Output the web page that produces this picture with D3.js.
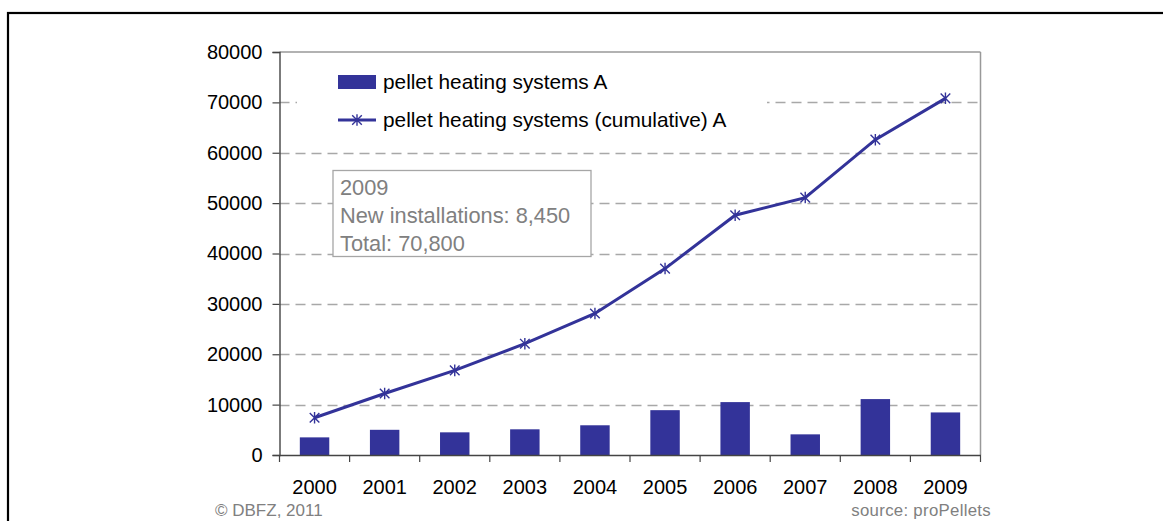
<!DOCTYPE html>
<html>
<head>
<meta charset="utf-8">
<script src="https://cdn.jsdelivr.net/npm/d3@7"></script>
<style>
  html, body { margin: 0; padding: 0; background: #fff; }
  svg { display: block; font-family: "Liberation Sans", Arial, sans-serif; }
</style>
</head>
<body>
<svg id="chart" width="1163" height="521"></svg>
<script>
// ---- data ----
const years = ["2000","2001","2002","2003","2004","2005","2006","2007","2008","2009"];
const newInstallations = [3500, 5000, 4500, 5100, 5900, 8900, 10500, 4100, 11100, 8450];
const cumulative = [7400, 12200, 16800, 22100, 28100, 37000, 47600, 51100, 62600, 70800];
const yTicks = [0, 10000, 20000, 30000, 40000, 50000, 60000, 70000, 80000];
const seriesNames = ["pellet heating systems A", "pellet heating systems (cumulative) A"];
const annotationLines = ["2009", "New installations: 8,450", "Total: 70,800"];
const creditLeft = "© DBFZ, 2011";
const creditRight = "source: proPellets";

(function () {
// ---- layout ----
const svg = d3.select("#chart");
const pL = 279.5, pR = 980.5, pT = 52, pB = 455;
const blue = "#333399";

const x = d3.scaleBand().domain(years).range([pL, pR]);
const y = d3.scaleLinear().domain([0, 80000]).range([pB, pT]);

// outer frame (clipped at right/bottom)
svg.append("rect").attr("x", 8).attr("y", 13).attr("width", 1200).attr("height", 600)
  .attr("fill", "none").attr("stroke", "#000").attr("stroke-width", 2.2);

// gridlines
svg.append("g").selectAll("line").data(yTicks.filter(t => t > 0 && t < 80000)).join("line")
  .attr("x1", pL).attr("x2", pR)
  .attr("y1", d => Math.round(y(d)) + 0.5).attr("y2", d => Math.round(y(d)) + 0.5)
  .attr("stroke", "#a8a8a8").attr("stroke-width", 1.5).attr("stroke-dasharray", "10,6");

// top and right border of plot
svg.append("line").attr("x1", pL).attr("x2", pR).attr("y1", y(80000)).attr("y2", y(80000))
  .attr("stroke", "#999").attr("stroke-width", 1.5);
svg.append("line").attr("x1", pR).attr("x2", pR).attr("y1", y(80000)).attr("y2", y(0))
  .attr("stroke", "#999").attr("stroke-width", 1.5);

// bars
const bw = x.bandwidth() * 0.42;
svg.append("g").selectAll("rect").data(years).join("rect")
  .attr("x", (d) => x(d) + (x.bandwidth() - bw) / 2)
  .attr("width", bw)
  .attr("y", (d, i) => y(newInstallations[i]))
  .attr("height", (d, i) => y(0) - y(newInstallations[i]))
  .attr("fill", blue);

// y axis
const yAxis = svg.append("g").attr("transform", `translate(${pL},0)`)
  .call(d3.axisLeft(y).tickValues(yTicks).tickFormat(d3.format("d")).tickSize(7).tickPadding(10));
yAxis.select(".domain").attr("stroke", "#444").attr("stroke-width", 1.4);
yAxis.selectAll(".tick line").attr("stroke", "#444").attr("stroke-width", 1.2);
yAxis.selectAll("text").attr("font-size", 20).attr("fill", "#000")
  .attr("font-family", "Liberation Sans, Arial, sans-serif");

// x axis
const xAxis = svg.append("g").attr("transform", `translate(0,${pB})`)
  .call(d3.axisBottom(x).tickSize(0).tickPadding(0));
xAxis.select(".domain").attr("stroke", "#444").attr("stroke-width", 1.6);
xAxis.selectAll("text").attr("font-size", 20).attr("fill", "#000").attr("dy", 0)
  .attr("y", 39).attr("font-family", "Liberation Sans, Arial, sans-serif");
// tick marks at category boundaries
const boundaries = years.map(d => x(d)).concat([x(years[years.length - 1]) + x.bandwidth()]);
svg.append("g").selectAll("line").data(boundaries).join("line")
  .attr("x1", d => d).attr("x2", d => d).attr("y1", pB).attr("y2", pB + 7)
  .attr("stroke", "#444").attr("stroke-width", 1.2);

// cumulative line
const cx = (d) => x(d) + x.bandwidth() / 2;
const line = d3.line().x((d, i) => cx(years[i])).y(d => y(d));
svg.append("path").datum(cumulative).attr("d", line)
  .attr("fill", "none").attr("stroke", blue).attr("stroke-width", 3);

function star(g, px, py, s) {
  g.append("path")
    .attr("d", `M${px - s},${py - s}L${px + s},${py + s}M${px - s},${py + s}L${px + s},${py - s}M${px},${py - s * 1.2}L${px},${py + s * 1.2}`)
    .attr("stroke", blue).attr("stroke-width", 1.4).attr("fill", "none");
}
const mk = svg.append("g");
cumulative.forEach((v, i) => star(mk, cx(years[i]), y(v), 4.8));

// legend (white background hides gridline)
const lg = svg.append("g");
lg.append("rect").attr("x", 297).attr("y", 62).attr("width", 470).attr("height", 78).attr("fill", "#fff");
lg.append("rect").attr("x", 338).attr("y", 75).attr("width", 38).attr("height", 14).attr("fill", blue);
lg.append("text").attr("x", 383).attr("y", 89).attr("font-size", 20.8).attr("fill", "#000").text(seriesNames[0]);
lg.append("line").attr("x1", 338).attr("x2", 376).attr("y1", 120).attr("y2", 120)
  .attr("stroke", blue).attr("stroke-width", 3);
star(lg, 357, 120, 4.8);
lg.append("text").attr("x", 383).attr("y", 127).attr("font-size", 20.8).attr("fill", "#000").text(seriesNames[1]);

// annotation box
const ab = svg.append("g");
ab.append("rect").attr("x", 333).attr("y", 170.5).attr("width", 258).attr("height", 86)
  .attr("fill", "#fff").attr("stroke", "#a6a6a6").attr("stroke-width", 1.3);
ab.selectAll("text").data(annotationLines).join("text")
  .attr("x", 340).attr("y", (d, i) => 195 + i * 28)
  .attr("font-size", 21.8).attr("fill", "#808080").text(d => d);

// credits
svg.append("text").attr("x", 215).attr("y", 516).attr("font-size", 17).attr("fill", "#808080").text(creditLeft);
svg.append("text").attr("x", 991).attr("y", 516).attr("text-anchor", "end").attr("font-size", 16.8)
  .attr("fill", "#808080").attr("letter-spacing", 0.3).text(creditRight);
})();
</script>
</body>
</html>
